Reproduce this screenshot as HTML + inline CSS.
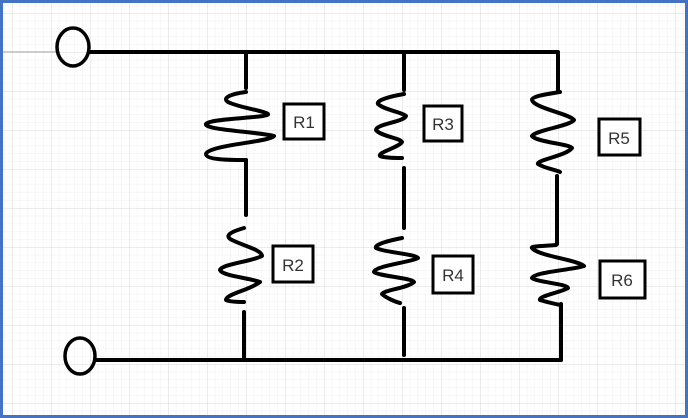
<!DOCTYPE html>
<html><head><meta charset="utf-8"><style>
html,body{margin:0;padding:0;background:#fff}
svg{display:block}
text{font-family:"Liberation Sans",sans-serif;font-size:17px;fill:#333}
</style></head><body>
<svg width="688" height="418" viewBox="0 0 688 418">
<defs>
<pattern id="minor" x="12" y="13" width="7.8" height="7.8" patternUnits="userSpaceOnUse">
<path d="M0 0H7.8M0 0V7.8" stroke="#f0f0f0" stroke-width="1" fill="none"/>
</pattern>
<pattern id="major" x="12" y="13" width="39" height="39" patternUnits="userSpaceOnUse">
<path d="M0 0H39M0 0V39" stroke="#d8d8d8" stroke-width="1" fill="none"/>
</pattern>
</defs>
<rect x="0" y="0" width="688" height="418" fill="#fff"/>
<rect x="2" y="2" width="684" height="414" fill="url(#minor)"/>
<rect x="2" y="2" width="684" height="414" fill="url(#major)"/>
<line x1="2" y1="52" x2="60" y2="52" stroke="#bbb" stroke-width="1.5"/>
<rect x="1.5" y="1.5" width="685" height="415" fill="none" stroke="#4472c4" stroke-width="3"/>

<g stroke="#000" stroke-width="4" fill="none" stroke-linecap="round" stroke-linejoin="round">
<ellipse cx="73" cy="47" rx="16" ry="19" stroke-width="3.5"/>
<ellipse cx="80" cy="356" rx="15" ry="18" stroke-width="3.5"/>
<path d="M90 52 H558"/>
<path d="M95 360 H561"/>

<g>
<path d="M246 52 V88 M246 160 V215 M244 312 V357"/>
<path d="M246 92 C230 94 222 98 228 102 C240 108 262 110 268 114 C270 118 210 118 206 124 C204 130 260 132 274 136 C270 142 208 145 206 154 C206 160 230 160 246 160"/>
<path d="M244 228 C230 232 224 236 232 240 C244 246 262 250 262 256 C250 262 222 264 220 270 C222 276 250 278 260 282 C250 290 226 294 226 300 C230 302 240 302 244 302"/>
</g>
<g>
<path d="M404 55 V90 M404 168 V228 M404 308 V355"/>
<path d="M404 94 C392 96 376 100 378 104 C384 110 402 112 406 116 C404 122 376 124 376 130 C380 136 400 138 402 142 C398 148 378 152 380 156 C384 158 396 158 402 158"/>
<path d="M402 238 C392 240 374 244 376 248 C382 252 416 254 418 258 C412 262 374 266 374 272 C378 276 412 278 414 282 C408 288 384 290 382 294 C386 298 396 302 400 303"/>
</g>
<g>
<path d="M558 54 V90 M561 304 V360"/>
<path d="M557 176 V244"/>
<path d="M560 92 C548 94 532 96 532 100 C534 108 570 114 574 120 C570 126 536 130 532 136 C536 142 570 144 572 148 C566 156 536 160 538 164 C544 168 556 170 560 172"/>
<path d="M556 245 C546 246 530 246 532 248 C538 256 578 260 584 266 C572 270 534 272 532 278 C536 282 568 284 568 288 C562 292 538 296 540 300 C546 302 556 304 560 305"/>
</g>
</g>

<g stroke="#000" stroke-width="3" fill="#fff">
<rect x="284" y="104" width="40" height="35"/>
<rect x="424" y="106" width="38" height="35"/>
<rect x="599" y="119" width="41" height="36"/>
<rect x="273" y="246" width="40" height="36"/>
<rect x="433" y="256" width="40" height="37"/>
<rect x="600" y="261" width="45" height="37"/>
</g>
<text x="304" y="128" text-anchor="middle">R1</text>
<text x="443" y="130" text-anchor="middle">R3</text>
<text x="619" y="144" text-anchor="middle">R5</text>
<text x="293" y="271" text-anchor="middle">R2</text>
<text x="453" y="281" text-anchor="middle">R4</text>
<text x="622" y="286" text-anchor="middle">R6</text>
</svg>
</body></html>
